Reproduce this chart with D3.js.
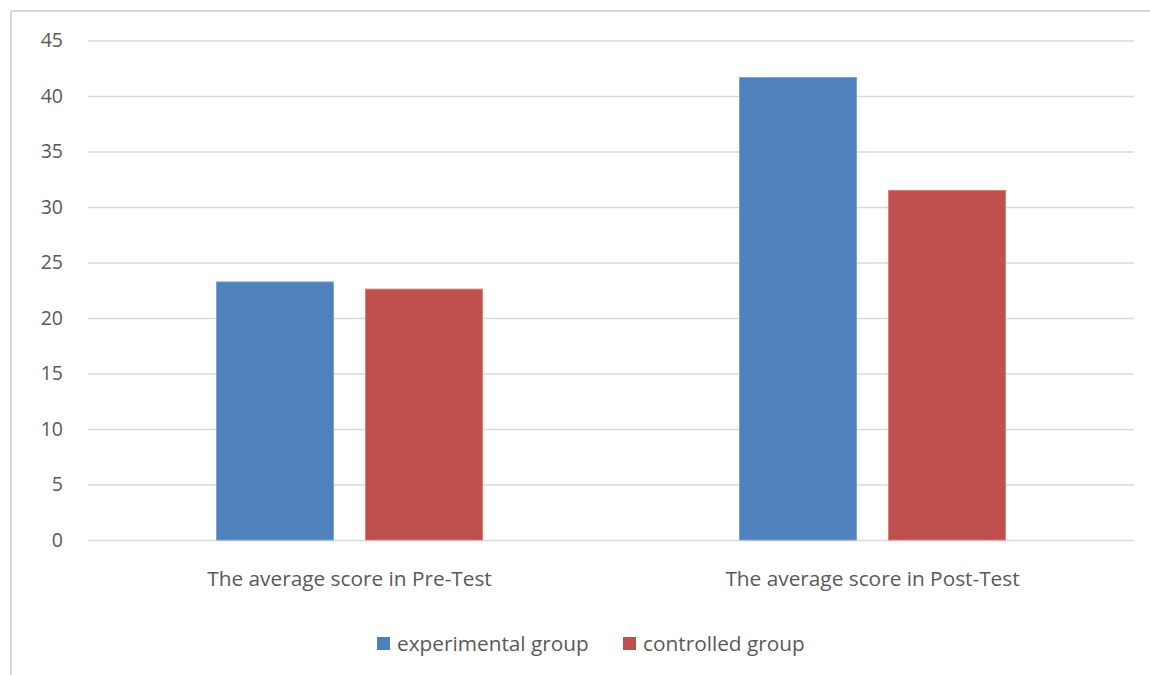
<!DOCTYPE html>
<html>
<head>
<meta charset="utf-8">
<script src="https://cdn.jsdelivr.net/npm/d3@7"></script>
<style>
  html, body { margin: 0; padding: 0; background: #fff; }
  svg { display: block; font-family: "Open Sans", sans-serif; }
</style>
</head>
<body>
<svg id="chart" width="1150" height="675"></svg>
<script>
// Average scores by test and group
const categories = ["The average score in Pre-Test", "The average score in Post-Test"];
const seriesNames = ["experimental group", "controlled group"];
const experimental = [23.25, 41.67];
const controlled = [22.6, 31.5];
const yTicks = [0, 5, 10, 15, 20, 25, 30, 35, 40, 45];
const colors = ["#4F81BD", "#C0504D"];
const strokes = ["#7fa3d1", "#d8817f"];

const values = [experimental, controlled];
const rows = categories.map((c, i) => ({
  category: c,
  bars: seriesNames.map((s, j) => ({ series: s, value: values[j][i], idx: j }))
}));

const svg = d3.select("#chart");
const plotLeft = 88, plotRight = 1134, plotTop = 40.5, plotBottom = 540;
const tickFont = 19.5, labelFont = 20.8;

// Outer chart frame
svg.append("rect")
  .attr("x", 11).attr("y", 11)
  .attr("width", 1160).attr("height", 700)
  .attr("fill", "none").attr("stroke", "#d9d9d9").attr("stroke-width", 2);

const y = d3.scaleLinear().domain([0, 45]).range([plotBottom, plotTop]);

const x0 = d3.scaleBand().domain(categories).range([plotLeft, plotRight])
  .paddingInner(0.4895).paddingOuter(0.24475);
const x1 = d3.scaleBand().domain(seriesNames).range([0, x0.bandwidth()])
  .paddingInner(0.208);

// Gridlines and value labels
const yAxis = d3.axisLeft(y).tickValues(yTicks).tickSize(-(plotRight - plotLeft)).tickPadding(25);
const gy = svg.append("g").attr("transform", `translate(${plotLeft},0)`).call(yAxis);
gy.select(".domain").remove();
gy.selectAll(".tick line").attr("stroke", "#d9d9d9").attr("stroke-width", 1.5);
gy.selectAll(".tick text")
  .attr("fill", "#595959").attr("font-size", tickFont)
  .attr("font-family", "'Open Sans', sans-serif");

// Bars
const groups = svg.append("g").selectAll("g").data(rows).join("g")
  .attr("transform", d => `translate(${x0(d.category)},0)`);
groups.selectAll("rect").data(d => d.bars).join("rect")
  .attr("x", d => x1(d.series) + 0.5)
  .attr("width", x1.bandwidth() - 1)
  .attr("y", d => y(d.value))
  .attr("height", d => y(0) - y(d.value))
  .attr("fill", d => colors[d.idx])
  .attr("stroke", d => strokes[d.idx])
  .attr("stroke-width", 1);

// Category labels
const xAxis = d3.axisBottom(x0).tickSize(0).tickPadding(31);
const gx = svg.append("g").attr("transform", `translate(0,${plotBottom})`).call(xAxis);
gx.select(".domain").remove();
gx.selectAll(".tick text").attr("fill", "#595959").attr("font-size", labelFont)
  .attr("font-family", "'Open Sans', sans-serif");

// Legend
const legendX = [377, 623];
const legend = svg.append("g").selectAll("g").data(seriesNames).join("g")
  .attr("transform", (d, i) => `translate(${legendX[i]},637)`);
legend.append("rect")
  .attr("width", 13).attr("height", 13)
  .attr("fill", (d, i) => colors[i]);
legend.append("text")
  .attr("x", 20).attr("y", 6.5).attr("dy", "0.35em")
  .attr("fill", "#595959").attr("font-size", labelFont)
  .text(d => d);
</script>
</body>
</html>
